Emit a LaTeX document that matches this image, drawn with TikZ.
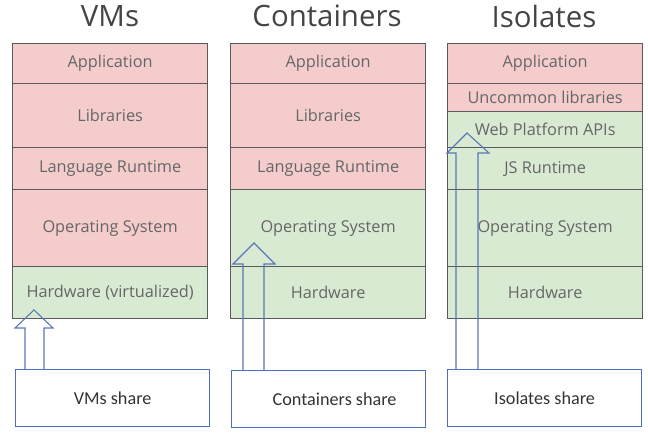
\documentclass[tikz,border=0pt]{standalone}
\usepackage{fontspec}
\usetikzlibrary{calc}
\setmainfont{Open Sans}
\newfontfamily\boxfont{Carlito}
\definecolor{pinkc}{HTML}{F4CCCC}
\definecolor{greenc}{HTML}{D9EAD3}
\definecolor{edgec}{HTML}{5A5A5A}
\definecolor{txtc}{HTML}{666666}
\definecolor{titlec}{HTML}{444444}
\definecolor{arrowc}{HTML}{5A78B8}
\definecolor{boxc}{HTML}{4A70BE}
\begin{document}
\begin{tikzpicture}[x=1pt,y=-1pt,
  cell/.style={draw=edgec,line width=1.3pt,anchor=north west,minimum width=195pt,inner sep=0pt,
    text=txtc,font=\fontsize{16.3}{18}\selectfont},
  pinkcell/.style={cell,fill=pinkc},
  greencell/.style={cell,fill=greenc},
  title/.style={text=titlec,font=\fontsize{29.4}{33}\selectfont},
  sharebox/.style={draw=boxc,line width=1.2pt,anchor=north west,minimum width=194pt,minimum height=57pt,
    inner sep=0pt,text=black!80,font=\boxfont\fontsize{18.2}{20}\selectfont},
  hollow/.style={draw=arrowc,line width=1.1pt}]
\useasboundingbox (0,0) rectangle (648,436);
% titles
\node[title] (t1) at (110,16) {VMs};
\node[title] (t2) at (327,16) {Containers};
\node[title] (t3) at (544,16) {Isolates};
% VMs column
\node[pinkcell,minimum height=40pt] (v1) at (12,43) {Application};
\node[pinkcell,minimum height=64pt] (v2) at (12,83) {Libraries};
\node[pinkcell,minimum height=42pt] (v3) at (12,147) {Language Runtime};
\node[pinkcell,minimum height=77pt] (v4) at (12,189) {Operating System};
\node[greencell,minimum height=52pt] (v5) at (12,266) {Hardware (virtualized)};
% Containers column
\node[pinkcell,minimum height=40pt] (c1) at (230,43) {Application};
\node[pinkcell,minimum height=64pt] (c2) at (230,83) {Libraries};
\node[pinkcell,minimum height=42pt] (c3) at (230,147) {Language Runtime};
\node[greencell,minimum height=77pt] (c4) at (230,189) {Operating System};
\node[greencell,minimum height=52pt] (c5) at (230,266) {Hardware};
% Isolates column
\node[pinkcell,minimum height=40pt] (i1) at (447,43) {Application};
\node[pinkcell,minimum height=28pt] (i2) at (447,83) {Uncommon libraries};
\node[greencell,minimum height=36pt] (i3) at (447,111) {Web Platform APIs};
\node[greencell,minimum height=42pt] (i4) at (447,147) {JS Runtime};
\node[greencell,minimum height=77pt] (i5) at (447,189) {Operating System};
\node[greencell,minimum height=52pt] (i6) at (447,266) {Hardware};
% share boxes
\node[sharebox] (s1) at (15,369) {VMs share};
\node[sharebox] (s2) at (231,370) {\hspace*{12pt}Containers share};
\node[sharebox] (s3) at (447,369) {Isolates share};
% hollow arrows
\coordinate (a1) at (s1.north west);
\draw[hollow] ($(a1)+(10,0)$) -- ($(a1)+(10,-41)$) -- ($(a1)+(0,-41)$) -- ($(a1)+(19,-59)$)
  -- ($(a1)+(38,-41)$) -- ($(a1)+(29,-41)$) -- ($(a1)+(29,0)$);
\coordinate (a2) at (s2.north west);
\draw[hollow] ($(a2)+(12,0)$) -- ($(a2)+(12,-106)$) -- ($(a2)+(2,-106)$) -- ($(a2)+(23,-127)$)
  -- ($(a2)+(44,-106)$) -- ($(a2)+(33,-106)$) -- ($(a2)+(33,0)$);
\coordinate (a3) at (s3.north west);
\draw[hollow] ($(a3)+(9,0)$) -- ($(a3)+(9,-216)$) -- ($(a3)+(0,-216)$) -- ($(a3)+(20,-236)$)
  -- ($(a3)+(42,-216)$) -- ($(a3)+(31,-216)$) -- ($(a3)+(31,0)$);
\end{tikzpicture}
\end{document}
